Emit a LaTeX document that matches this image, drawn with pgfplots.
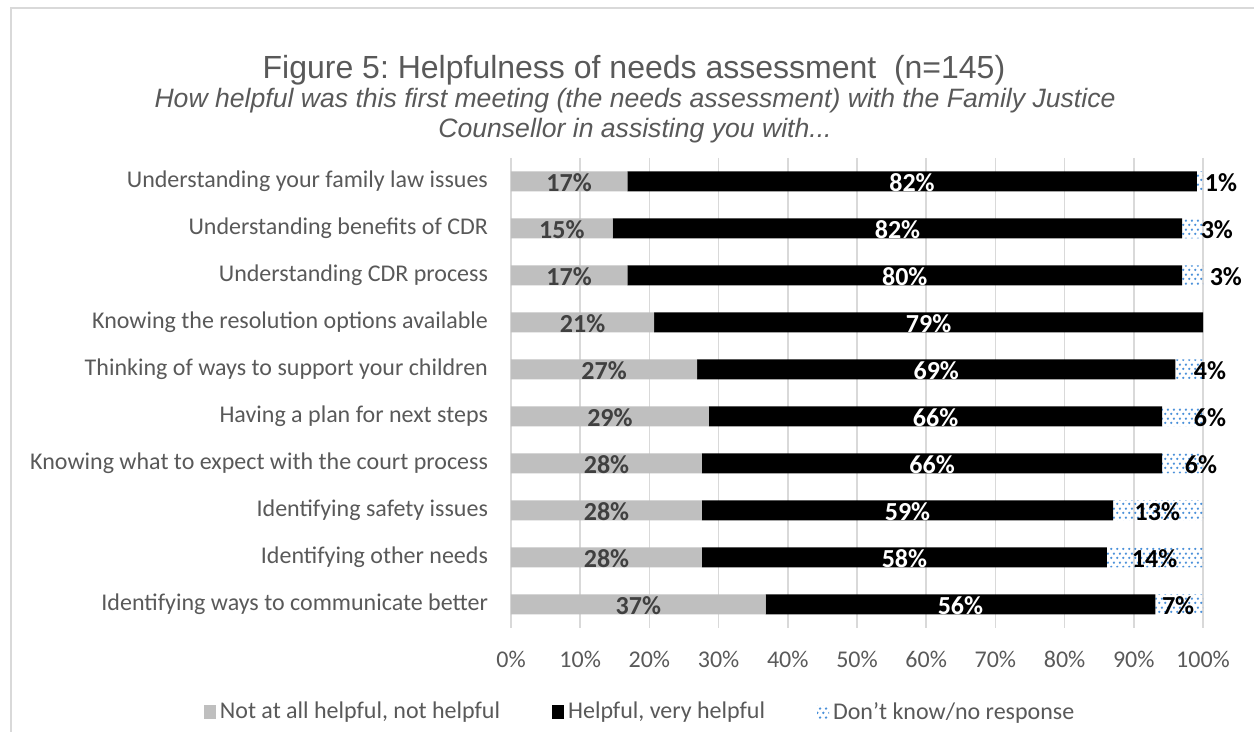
\documentclass[border=0pt]{standalone}
\usepackage{pgfplots}
\pgfplotsset{compat=1.18}
\usepackage{pgfplotstable}
\usepackage{fontspec}
\setmainfont{Carlito}
\newfontfamily\arialfont{Liberation Sans}
\usetikzlibrary{patterns,patterns.meta}
\definecolor{txt}{HTML}{595959}
\definecolor{greybar}{HTML}{BFBFBF}
\definecolor{gridc}{HTML}{D9D9D9}
\definecolor{glab}{HTML}{404040}
\definecolor{dotc}{HTML}{4A90D9}
\frenchspacing

\tikzdeclarepattern{
  name=mydots,
  type=uncolored,
  bottom left={(0pt,0pt)},
  top right={(3pt,4.6pt)},
  tile size={(3pt,4.6pt)},
  code={\fill (0.75pt,1.15pt) circle (0.7pt); \fill (2.25pt,3.45pt) circle (0.7pt);}
}

% row, bar segments (percent) and displayed labels
\pgfplotstableread{
y grey black dk gl bl
0 16.8 82.3 0.9 17 82
1 14.7 82.3 3.0 15 82
2 16.8 80.2 3.0 17 80
3 20.7 79.3 0.0 21 79
4 26.9 69.1 4.0 27 69
5 28.6 65.5 5.9 29 66
6 27.6 66.5 5.9 28 66
7 27.6 59.4 13.0 28 59
8 27.6 58.5 13.9 28 58
9 36.8 56.3 6.9 37 56
}\data

% labels of the third segment (position of label, value)
\pgfplotstableread{
y x lab
0 102.6 1
1 102.0 3
2 103.3 3
4 101.0 4
5 101.0 6
6 99.7 6
7 93.4 13
8 93.0 14
9 96.4 7
}\dklabels

\pgfplotsset{base/.style={at={(255.5pt,57pt)}, anchor=south west,
  scale only axis, width=346pt, height=235pt,
  xmin=0, xmax=100, ymin=-0.5, ymax=9.5, y dir=reverse},
  lab/.style={only marks, mark=*, mark size=0pt, mark options={draw=none, fill=none},
  point meta=explicit,
  nodes near coords={\pgfmathprintnumber[assume math mode=true]{\pgfplotspointmeta}\%},
  nodes near coords style={anchor=center, yshift=-0.5pt, font=\bfseries\fontsize{13}{15}\selectfont, text=#1}}}

\begin{document}
\begin{tikzpicture}
\useasboundingbox (0,0) rectangle (627pt,371pt);
\draw[gridc, line width=1pt] (5.5pt,5pt) -- (5.5pt,367.2pt) -- (627pt,367.2pt);

\node[font=\arialfont\fontsize{16}{19}\selectfont, text=txt] at (317pt,336pt)
  {Figure 5: Helpfulness of needs assessment\ \ (n=145)};
\node[font=\arialfont\itshape\fontsize{13.3}{15}\selectfont, text=txt, align=center] at (317.5pt,313pt)
  {How helpful was this first meeting (the needs assessment) with the Family Justice\\Counsellor in assisting you with...};

\begin{axis}[base,
  xbar stacked, bar width=10pt,
  xmajorgrids, grid style={gridc, line width=0.8pt},
  axis line style={draw=none}, major tick length=0pt,
  xtick={0,10,20,30,40,50,60,70,80,90,100},
  xticklabels={0\%,10\%,20\%,30\%,40\%,50\%,60\%,70\%,80\%,90\%,100\%},
  ytick={0,1,2,3,4,5,6,7,8,9},
  yticklabels={Understanding your family law issues,Understanding benefits of CDR,Understanding CDR process,Knowing the resolution options available,Thinking of ways to support your children,Having a plan for next steps,Knowing what to expect with the court process,Identifying safety issues,Identifying other needs,Identifying ways to communicate better},
  tick label style={font=\fontsize{12}{14}\selectfont, text=txt},
  yticklabel style={xshift=-8pt},
  xticklabel style={yshift=-8pt},
  legend columns=3,
  legend style={draw=none, at={(0.188,-0.179)}, anchor=center,
    font=\fontsize{12}{14}\selectfont, text=txt,
    /tikz/every even column/.append style={column sep=24pt}},
  legend image code/.code={\draw[#1, draw=none] (0pt,-3.5pt) rectangle (6pt,3.5pt);},
]
\addplot[fill=greybar, draw=none] table[x=grey, y=y] {\data};
\addlegendentry{Not at all helpful, not helpful}
\addplot[fill=black, draw=none] table[x=black, y=y] {\data};
\addlegendentry{Helpful, very helpful}
\addplot[pattern={mydots}, pattern color=dotc, draw=none] table[x=dk, y=y] {\data};
\addlegendentry{Don’t know/no response}
\end{axis}

\begin{axis}[base, hide axis, clip=false]
\addplot[lab=glab] table[x expr=\thisrow{grey}/2, y=y, meta=gl] {\data};
\addplot[lab=white] table[x expr=\thisrow{grey}+\thisrow{black}/2, y=y, meta=bl] {\data};
\addplot[lab=black] table[x=x, y=y, meta=lab] {\dklabels};
\end{axis}
\end{tikzpicture}
\end{document}
